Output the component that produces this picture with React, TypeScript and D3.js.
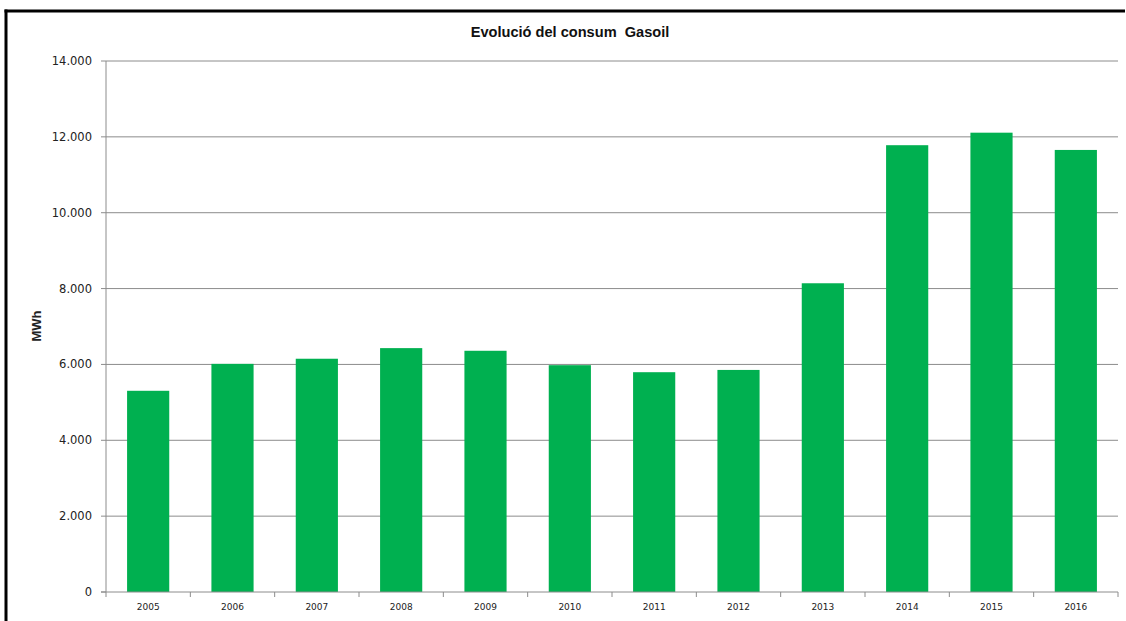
import React from "react";
import * as d3 from "d3";

const years = ["2005","2006","2007","2008","2009","2010","2011","2012","2013","2014","2015","2016"];
const consumption = [5305, 6015, 6150, 6430, 6360, 5980, 5795, 5855, 8140, 11780, 12110, 11655];
const yTicks = [0, 2000, 4000, 6000, 8000, 10000, 12000, 14000];
const title = "Evolució del consum  Gasoil";
const yLabel = "MWh";

const W = 1126, H = 621;
const left = 106, right = 1118, top = 61, bottom = 592;

const fmt = (v: number) => {
  if (v === 0) return "0";
  const s = String(v);
  return s.slice(0, s.length - 3) + "." + s.slice(-3);
};

export default function App() {
  const x = d3.scaleBand<string>().domain(years).range([left, right]).paddingInner(0.5).paddingOuter(0.25);
  const xb = d3.scaleBand<string>().domain(years).range([left, right]);
  const y = d3.scaleLinear().domain([0, 14000]).range([bottom, top]);
  const grid = "#8c8c8c";
  return (
    <svg width={W} height={H} style={{ position: "fixed", left: 0, top: 0, display: "block" }}>
      <rect x={0} y={0} width={W} height={H} fill="#fff" />
      <line x1={4.5} x2={W - 1} y1={11} y2={11} stroke="#000" strokeWidth={3} />
      <line x1={6} x2={6} y1={9.5} y2={H} stroke="#000" strokeWidth={3} />
      <text x={570} y={37} textAnchor="middle" fontFamily="Liberation Sans, Arial, sans-serif" fontWeight="bold" fontSize={14.6} fill="#111" style={{ whiteSpace: "pre" }}>{title}</text>
      {yTicks.map(t => (
        <g key={t}>
          {t > 0 && <line x1={left} x2={right} y1={y(t)} y2={y(t)} stroke={grid} strokeWidth={1} />}
          <line x1={left - 5} x2={left} y1={y(t)} y2={y(t)} stroke={grid} strokeWidth={1} />
          <text x={92} y={y(t)} dy="0.35em" textAnchor="end" fontFamily="DejaVu Sans, Verdana, sans-serif" fontSize={11.5} fill="#222">{fmt(t)}</text>
        </g>
      ))}
      <line x1={left} x2={left} y1={top} y2={bottom} stroke={grid} strokeWidth={1} />
      {years.map((yr, i) => (
        <rect key={yr} x={x(yr)} y={y(consumption[i])} width={x.bandwidth()} height={bottom - y(consumption[i])} fill="#00B050" />
      ))}
      <line x1={left - 5} x2={right} y1={bottom} y2={bottom} stroke={grid} strokeWidth={1} />
      {years.map(yr => (
        <line key={"t" + yr} x1={(xb(yr) as number) + xb.bandwidth()} x2={(xb(yr) as number) + xb.bandwidth()} y1={bottom} y2={bottom + 5} stroke={grid} />
      ))}
      <line x1={left} x2={left} y1={bottom} y2={bottom + 5} stroke={grid} />
      {years.map(yr => (
        <text key={"l" + yr} x={(xb(yr) as number) + xb.bandwidth() / 2} y={610} textAnchor="middle" fontFamily="DejaVu Sans, Verdana, sans-serif" fontSize={9} fill="#222">{yr}</text>
      ))}
      <text transform={`translate(41,326) rotate(-90)`} textAnchor="middle" fontFamily="Liberation Sans, Arial, sans-serif" fontWeight="bold" fontSize={13} fill="#222">{yLabel}</text>
    </svg>
  );
}
